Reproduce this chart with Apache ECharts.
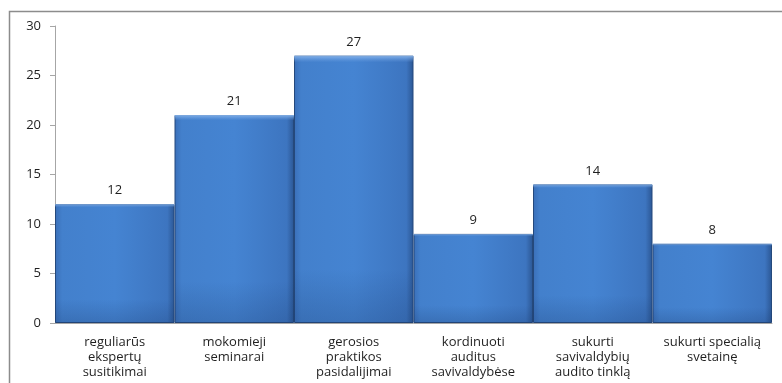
<!DOCTYPE html>
<html>
<head>
<meta charset="utf-8">
<script src="https://cdn.jsdelivr.net/npm/echarts@6/dist/echarts.min.js"></script>
<style>
  html, body { margin: 0; padding: 0; background: #fff; }
  #chart { width: 782px; height: 383px; }
</style>
</head>
<body>
<div id="chart"></div>
<script>
// Categories (multi-line labels) and counts per category
const categories = [
  'reguliarūs\nekspertų\nsusitikimai',
  'mokomieji\nseminarai',
  'gerosios\npraktikos\npasidalijimai',
  'kordinuoti\nauditus\nsavivaldybėse',
  'sukurti\nsavivaldybių\naudito tinklą',
  'sukurti specialią\nsvetainę'
];
const counts = [12, 21, 27, 9, 14, 8];
const yTicks = { min: 0, max: 30, interval: 5 };

const font = 'Open Sans, Noto Sans, sans-serif';

const chart = echarts.init(document.getElementById('chart'), null, { renderer: 'canvas' });

chart.setOption({
  animation: false,
  backgroundColor: '#ffffff',
  graphic: [{
    type: 'rect',
    shape: { x: 9.5, y: 11.5, width: 800, height: 400 },
    style: { fill: 'none', stroke: '#8c8c8c', lineWidth: 1.5 },
    z: 0
  }],
  grid: { left: 55, right: 10, top: 26, bottom: 60 },
  xAxis: {
    type: 'category',
    data: categories,
    axisLine: { lineStyle: { color: '#a6a6a6', width: 1 } },
    axisTick: { show: false },
    axisLabel: {
      interval: 0,
      color: '#1f1f1f',
      fontFamily: font,
      fontSize: 13,
      lineHeight: 15,
      margin: 12
    }
  },
  yAxis: {
    type: 'value',
    min: yTicks.min,
    max: yTicks.max,
    interval: yTicks.interval,
    axisLine: { show: true, lineStyle: { color: '#a6a6a6', width: 1 } },
    axisTick: { show: true, length: 5, lineStyle: { color: '#a6a6a6' } },
    splitLine: { show: false },
    axisLabel: {
      color: '#1f1f1f',
      fontFamily: font,
      fontSize: 13,
      margin: 14
    }
  },
  series: [{
    type: 'bar',
    data: counts,
    barWidth: '100%',
    barCategoryGap: 0,
    itemStyle: {
      color: {
        type: 'linear', x: 0, y: 0, x2: 1, y2: 0,
        colorStops: [
          { offset: 0, color: '#3a6fb8' },
          { offset: 0.06, color: '#4380cc' },
          { offset: 0.5, color: '#4584d2' },
          { offset: 0.94, color: '#3d75c0' },
          { offset: 1, color: '#2b5693' }
        ]
      },
      borderColor: '#25497c',
      borderWidth: 1
    },
    label: {
      show: true,
      position: 'top',
      distance: 7,
      color: '#1f1f1f',
      fontFamily: font,
      fontSize: 13
    }
  }, {
    // light bevel strip along each bar's top edge, darker toward the base
    type: 'bar',
    data: counts,
    barWidth: '100%',
    barGap: '-100%',
    silent: true,
    itemStyle: {
      color: {
        type: 'linear', x: 0, y: 0, x2: 0, y2: 1,
        colorStops: [
          { offset: 0, color: 'rgba(140,185,240,0.9)' },
          { offset: 0.025, color: 'rgba(110,160,225,0.0)' },
          { offset: 0.8, color: 'rgba(20,50,100,0.0)' },
          { offset: 1, color: 'rgba(20,50,100,0.22)' }
        ]
      }
    }
  }]
});
</script>
</body>
</html>
